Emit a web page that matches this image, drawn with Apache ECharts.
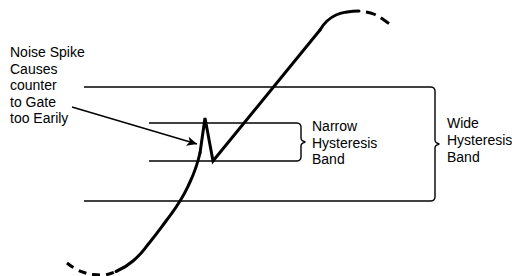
<!DOCTYPE html>
<html>
<head>
<meta charset="utf-8">
<script src="https://cdn.jsdelivr.net/npm/echarts@6/dist/echarts.min.js"></script>
<style>html,body{margin:0;padding:0;background:#fff}#c{width:512px;height:276px}</style>
</head>
<body>
<div id="c"></div>
<script>
// Diagram coordinates (x to the right, y downward) — data values
const wideLevels = [87, 201];
const wideSpan = [84, 431];
const narrowLevels = [123, 161];
const narrowSpan = [149, 297];

// Signal curve pieces
const lowerDash = [[67,263],[75,268.5],[84,272.5],[93,274.5],[101,275],[109,274],[116,271.5]];
const lowerSolid = [[116,271.5],[133,261],[150,242],[166,221],[180,201],[190,182],[196,167],[200,153]];
const spikeLine = [[200,153],[205,118],[213,161],[320,30]];
const upperSolid = [[320,30],[327,21],[336,15],[347,12],[359,11]];
const upperDash = [[366,12],[375,14.5],[384,20],[392,26]];

// Arrow from note to spike
const arrowFrom = [72, 107];
const arrowTo = [197, 144];

// Text
const noteLines = ['Noise Spike', 'Causes', 'counter', 'to Gate', 'too Earily'];
const narrowLabel = ['Narrow', 'Hysteresis', 'Band'];
const wideLabel = ['Wide', 'Hysteresis', 'Band'];

function brace(xEnd, top, bottom) {
  const mid = (top + bottom) / 2;
  const xv = xEnd + 4;
  return [
    [xEnd, top], [xEnd + 3, top + 1.2], [xv, top + 4],
    [xv, mid - 4], [xv + 1.5, mid - 1.2], [xv + 4, mid],
    [xv + 1.5, mid + 1.2], [xv, mid + 4],
    [xv, bottom - 4], [xEnd + 3, bottom - 1.2], [xEnd, bottom]
  ];
}

const chart = echarts.init(document.getElementById('c'), null, {renderer: 'svg'});
const thin = {color: '#000', width: 1.4};
const thick = {color: '#000', width: 3, cap: 'butt', join: 'miter'};
function lineSeries(data, style, smooth) {
  return {type: 'line', data: data, symbol: 'none', smooth: smooth || false,
    lineStyle: style, silent: true, animation: false, z: 2};
}
const series = [];
wideLevels.forEach(y => series.push(lineSeries([[wideSpan[0], y], [wideSpan[1], y]], thin)));
narrowLevels.forEach(y => series.push(lineSeries([[narrowSpan[0], y], [narrowSpan[1], y]], thin)));
series.push(lineSeries(brace(wideSpan[1], wideLevels[0], wideLevels[1]), thin, 0.5));
series.push(lineSeries(brace(narrowSpan[1], narrowLevels[0], narrowLevels[1]), thin, 0.5));
series.push(lineSeries(lowerDash, Object.assign({}, thick, {type: [8, 6]}), 0.5));
series.push(lineSeries(lowerSolid, Object.assign({}, thick, {cap: 'round'}), 0.5));
series.push(lineSeries(spikeLine, Object.assign({}, thick, {cap: 'round'}), false));
series.push(lineSeries(upperSolid, Object.assign({}, thick, {cap: 'round'}), 0.5));
series.push(lineSeries(upperDash, Object.assign({}, thick, {type: [10, 6]}), 0.5));
series.push({
  type: 'line', data: [], silent: true, animation: false,
  markLine: {
    silent: true, animation: false,
    symbol: ['none', 'arrow'], symbolSize: [7, 10],
    label: {show: false},
    lineStyle: {color: '#000', width: 1.4, type: 'solid'},
    data: [[{coord: arrowFrom}, {coord: arrowTo}]]
  }
});

function textBlock(lines, x, y0, lh) {
  return lines.map((t, i) => ({
    type: 'text', left: x, top: y0 + i * lh - 8,
    style: {text: t, fill: '#000', font: '14px "Liberation Sans", Arial, sans-serif',
      textVerticalAlign: 'top'}
  }));
}

chart.setOption({
  animation: false,
  grid: {left: 0, right: 0, top: 0, bottom: 0},
  xAxis: {type: 'value', min: 0, max: 512, show: false},
  yAxis: {type: 'value', min: 0, max: 276, inverse: true, show: false},
  series: series,
  graphic: [].concat(
    textBlock(noteLines, 10, 53, 16.5),
    textBlock(narrowLabel, 312, 127, 16.5),
    textBlock(wideLabel, 447, 124, 17)
  )
});
</script>
</body>
</html>
